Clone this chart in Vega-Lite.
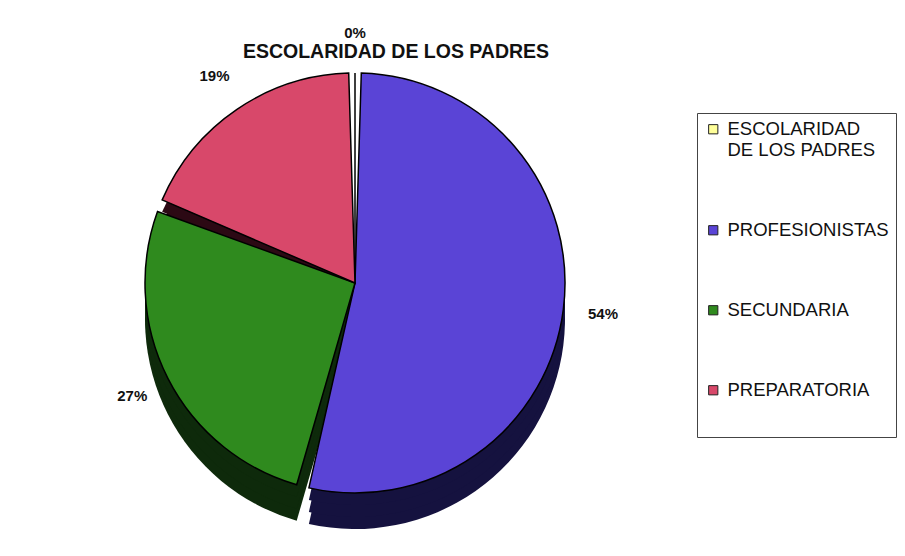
{
  "$schema": "https://vega.github.io/schema/vega-lite/v6.json",
  "width": 500,
  "height": 446,
  "autosize": {"type": "none"},
  "padding": {"left": 105, "top": 60, "right": 300, "bottom": 50},
  "background": "white",
  "view": {"stroke": null},
  "config": {"font": "Liberation Sans"},
  "title": {
    "text": "ESCOLARIDAD DE LOS PADRES",
    "font": "Liberation Sans",
    "fontSize": 19.5,
    "fontWeight": "bold",
    "color": "#111111",
    "anchor": "middle",
    "frame": "group",
    "dx": 41,
    "offset": -36
  },
  "data": {
    "values": [
      {"nivel": "ESCOLARIDAD DE LOS PADRES", "pct": 0, "orden": 1},
      {"nivel": "PROFESIONISTAS", "pct": 0.54, "orden": 2},
      {"nivel": "SECUNDARIA", "pct": 0.27, "orden": 3},
      {"nivel": "PREPARATORIA", "pct": 0.19, "orden": 4}
    ]
  },
  "encoding": {
    "theta": {"field": "pct", "type": "quantitative", "stack": true},
    "order": {"field": "orden", "type": "quantitative"}
  },
  "layer": [
    {
      "layer": [
        {"mark": {"type": "arc", "radius": 210, "yOffset": 36, "padAngle": 0.06}},
        {"mark": {"type": "arc", "radius": 210, "yOffset": 24, "padAngle": 0.06}},
        {"mark": {"type": "arc", "radius": 210, "yOffset": 12, "padAngle": 0.06}}
      ],
      "encoding": {
        "color": {
          "field": "nivel", "type": "nominal", "legend": null,
          "scale": {
            "domain": ["ESCOLARIDAD DE LOS PADRES", "PROFESIONISTAS", "SECUNDARIA", "PREPARATORIA"],
            "range": ["#6b6b30", "#15123f", "#0e2a0b", "#2c0914"]
          }
        }
      }
    },
    {
      "mark": {"type": "arc", "radius": 210, "padAngle": 0.06, "stroke": "#000000", "strokeWidth": 1.5},
      "encoding": {
        "color": {
          "field": "nivel", "type": "nominal",
          "scale": {
            "domain": ["ESCOLARIDAD DE LOS PADRES", "PROFESIONISTAS", "SECUNDARIA", "PREPARATORIA"],
            "range": ["#ffff99", "#5a44d6", "#2f8a1e", "#d8486a"]
          },
          "legend": {
            "title": " ",
            "titleOrient": "bottom",
            "titleFontSize": 20,
            "titlePadding": 10,
            "orient": "none",
            "legendX": 592,
            "legendY": 53,
            "direction": "vertical",
            "symbolType": "square",
            "symbolSize": 85,
            "symbolStrokeColor": "#222222",
            "symbolStrokeWidth": 1,
            "labelFont": "Liberation Sans",
            "labelFontSize": 18.5,
            "labelColor": "#111111",
            "labelLimit": 220,
            "labelOffset": 5,
            "rowPadding": 61,
            "padding": 7,
            "strokeColor": "#444444",
            "fillColor": "white",
            "labelExpr": "datum.label == 'ESCOLARIDAD DE LOS PADRES' ? ['ESCOLARIDAD', 'DE LOS PADRES'] : datum.label"
          }
        }
      }
    },
    {
      "mark": {"type": "text", "radius": 250, "font": "Liberation Sans", "fontSize": 15, "fontWeight": "bold", "color": "#111111"},
      "encoding": {
        "text": {"field": "pct", "type": "quantitative", "format": ".0%"}
      }
    }
  ],
  "resolve": {"scale": {"color": "independent"}}
}
